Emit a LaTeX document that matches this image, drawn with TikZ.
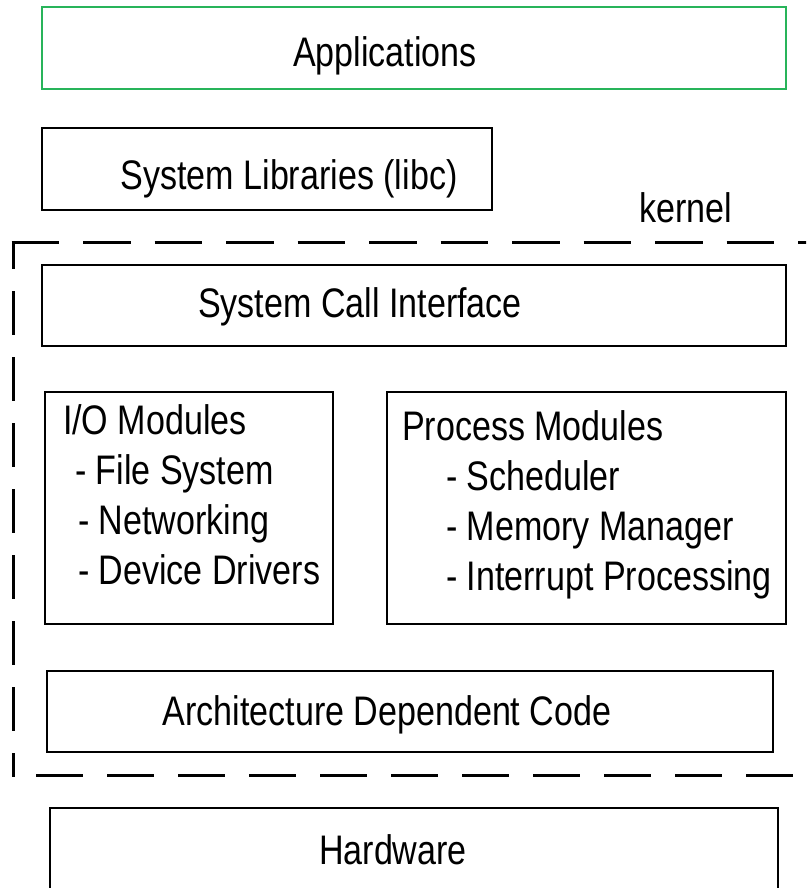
\documentclass[tikz,border=0pt]{standalone}
\usepackage{fontspec}
\setmainfont[FakeStretch=0.825]{Liberation Sans}
\definecolor{appgreen}{RGB}{40,180,90}
\begin{document}
\begin{tikzpicture}[x=1pt,y=-1pt,
  box/.style={draw=black, line width=2pt, inner sep=0pt, outer sep=0pt},
  lbl/.style={inner sep=0pt, outer sep=0pt, font=\fontsize{41.3}{50}\selectfont, anchor=base},
  lblw/.style={lbl, anchor=base west},
  frame/.style={draw=black, line width=3pt}]
\clip (0,0) rectangle (806,888);
\fill[white] (0,0) rectangle (806,888);
% boxes
\node[box, draw=appgreen, minimum width=744pt, minimum height=82pt] (app) at (414,48) {};
\node[box, minimum width=450pt, minimum height=82pt] (lib) at (267,169) {};
\node[box, minimum width=744pt, minimum height=81pt] (sci) at (414,305.5) {};
\node[box, minimum width=288pt, minimum height=232pt] (io) at (189,508) {};
\node[box, minimum width=399pt, minimum height=232pt] (proc) at (586.5,508) {};
\node[box, minimum width=726pt, minimum height=81pt] (arch) at (410,711.5) {};
\node[box, minimum width=728pt, minimum height=100pt] (hw) at (414,858) {};
% labels
\node[lbl] (tapp) at (385,67) {Applications};
\node[lbl] (tlib) at (289,189) {System Libraries (libc)};
\node[lbl] (tkernel) at (686,222) {kernel};
\node[lbl] (tsci) at (360,317) {System Call Interface};
\node[lbl] (tarch) at (387,725) {Architecture Dependent Code};
\node[lbl] (thw) at (393,864) {Hardware};
\node[lblw] (io1) at (63,434) {I/O Modules};
\node[lblw] (io2) at (75,484) {- File System};
\node[lblw] (io3) at (78,534) {- Networking};
\node[lblw] (io4) at (78,584) {- Device Drivers};
\node[lblw] (p1) at (402,440) {Process Modules};
\node[lblw] (p2) at (446,490) {- Scheduler};
\node[lblw] (p3) at (446,540) {- Memory Manager};
\node[lblw] (p4) at (446,590) {- Interrupt Processing};
% kernel dashed frame
\coordinate (kTL) at (13,242);
\coordinate (kTR) at (830,242);
\coordinate (kBL) at (13,777);
\coordinate (kB0) at (36,775);
\coordinate (kBR) at (830,775);
\draw[frame, dash pattern=on 47.5pt off 24pt] ([xshift=-1.5pt]kTL) -- (kTR);
\draw[frame, dash pattern=on 44pt off 22pt, dash phase=17pt] (kTL) -- (kBL);
\draw[frame, dash pattern=on 47pt off 24pt] (kB0) -- (kBR);
\end{tikzpicture}
\end{document}
